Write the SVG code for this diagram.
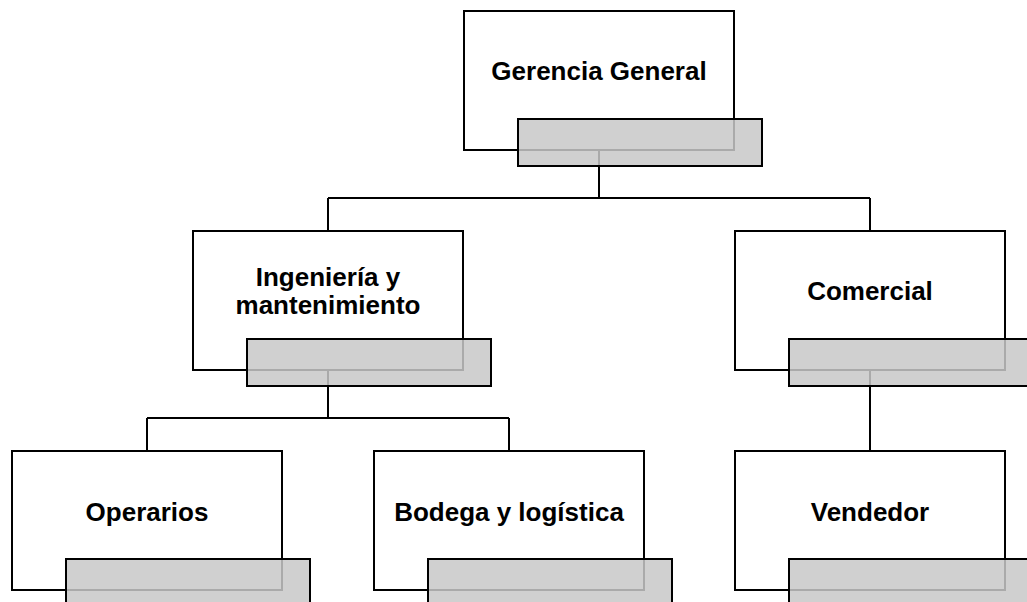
<svg xmlns="http://www.w3.org/2000/svg" width="1027" height="602" viewBox="0 0 1027 602">
  <style>
    .box { fill: #ffffff; stroke: #000000; stroke-width: 2; }
    .tab { fill: #c8c8c8; fill-opacity: 0.85; stroke: #000000; stroke-width: 2; }
    .label { font-family: "Liberation Sans", Arial, sans-serif; font-weight: bold; font-size: 26px; fill: #000000; text-anchor: middle; }
    .wire { fill: none; stroke: #000000; stroke-width: 2; }
  </style>
  <rect width="1027" height="602" fill="#ffffff"/>

  <!-- connectors (drawn first so the shaded tabs sit over them) -->
  <g id="connectors">
    <path class="wire" d="M599,150 V198 M328,198 H870 M328,198 V231 M870,198 V231"/>
    <path class="wire" d="M328,370 V418 M147,418 H509 M147,418 V451 M509,418 V451"/>
    <path class="wire" d="M870,370 V451"/>
  </g>

  <g id="gerencia-general">
    <rect class="box" x="464" y="11" width="270" height="139"/>
    <text class="label" x="599" y="80">Gerencia General</text>
    <rect class="tab" x="518" y="119" width="244" height="47"/>
  </g>

  <g id="ingenieria-mantenimiento">
    <rect class="box" x="193" y="231" width="270" height="139"/>
    <text class="label" x="328" y="286">Ingeniería y</text>
    <text class="label" x="328" y="314">mantenimiento</text>
    <rect class="tab" x="247" y="339" width="244" height="47"/>
  </g>

  <g id="comercial">
    <rect class="box" x="735" y="231" width="270" height="139"/>
    <text class="label" x="870" y="300">Comercial</text>
    <rect class="tab" x="789" y="339" width="244" height="47"/>
  </g>

  <g id="operarios">
    <rect class="box" x="12" y="451" width="270" height="139"/>
    <text class="label" x="147" y="521">Operarios</text>
    <rect class="tab" x="66" y="559" width="244" height="47"/>
  </g>

  <g id="bodega-logistica">
    <rect class="box" x="374" y="451" width="270" height="139"/>
    <text class="label" x="509" y="521">Bodega y logística</text>
    <rect class="tab" x="428" y="559" width="244" height="47"/>
  </g>

  <g id="vendedor">
    <rect class="box" x="735" y="451" width="270" height="139"/>
    <text class="label" x="870" y="521">Vendedor</text>
    <rect class="tab" x="789" y="559" width="244" height="47"/>
  </g>
</svg>
